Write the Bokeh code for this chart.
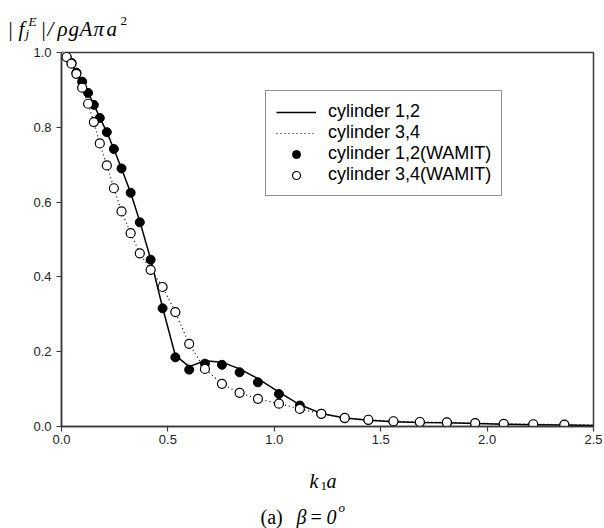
from bokeh.plotting import figure
from bokeh.layouts import column
from bokeh.models import Range1d, FixedTicker, PrintfTickFormatter, Legend, LegendItem, Label
from bokeh.embed import file_html
from bokeh.resources import INLINE

# ---- data ----
ka = [0.003, 0.024, 0.047, 0.070, 0.097, 0.125, 0.152, 0.180, 0.213, 0.246,
      0.282, 0.325, 0.368, 0.419, 0.475, 0.535, 0.600, 0.674, 0.754, 0.837,
      0.923, 1.022, 1.120, 1.221, 1.331, 1.442, 1.560, 1.684, 1.811, 1.944,
      2.078, 2.217, 2.363]
wamit12 = [0.995, 0.988, 0.972, 0.946, 0.922, 0.892, 0.860, 0.825, 0.787, 0.742,
           0.690, 0.625, 0.546, 0.446, 0.316, 0.185, 0.152, 0.168, 0.165, 0.145,
           0.118, 0.087, 0.056, 0.034, 0.022, 0.017, 0.013, 0.011, 0.010, 0.008,
           0.006, 0.005, 0.004]
wamit34 = [0.994, 0.988, 0.970, 0.943, 0.906, 0.863, 0.814, 0.757, 0.698, 0.637,
           0.575, 0.517, 0.463, 0.419, 0.373, 0.306, 0.221, 0.154, 0.114, 0.090,
           0.074, 0.061, 0.047, 0.034, 0.023, 0.018, 0.014, 0.012, 0.011, 0.009,
           0.007, 0.006, 0.005]
line_ka = [0.0] + ka + [2.5]
line12 = [1.0, 0.995, 0.988, 0.972, 0.947, 0.922, 0.893, 0.861, 0.826, 0.787,
          0.742, 0.690, 0.625, 0.548, 0.448, 0.318, 0.190, 0.160, 0.176, 0.172,
          0.154, 0.128, 0.092, 0.058, 0.035, 0.023, 0.017, 0.013, 0.011, 0.010,
          0.008, 0.006, 0.005, 0.004, 0.003]
line34 = [1.0, 0.994, 0.988, 0.970, 0.943, 0.906, 0.863, 0.814, 0.757, 0.698,
          0.637, 0.575, 0.517, 0.463, 0.419, 0.373, 0.306, 0.221, 0.154, 0.114,
          0.090, 0.074, 0.061, 0.047, 0.034, 0.023, 0.018, 0.014, 0.012, 0.011,
          0.009, 0.007, 0.006, 0.005, 0.004]
x_ticks = [0.0, 0.5, 1.0, 1.5, 2.0, 2.5]
y_ticks = [0.0, 0.2, 0.4, 0.6, 0.8, 1.0]
series_names = ["cylinder 1,2", "cylinder 3,4", "cylinder 1,2(WAMIT)", "cylinder 3,4(WAMIT)"]

W = 604
TOP_H = 42
MAIN_H = 413
BOT_H = 528 - TOP_H - MAIN_H
AX = "#3a3a3a"


def text_strip(height):
    f = figure(width=W, height=height, output_backend="svg", toolbar_location=None,
               x_range=Range1d(0, 1), y_range=Range1d(0, 1), frame_align=False,
               x_axis_location=None, y_axis_location=None, min_border=0,
               min_border_left=0, min_border_right=0, min_border_top=0, min_border_bottom=0)
    f.outline_line_color = None
    f.grid.visible = False
    f.background_fill_color = "white"
    f.border_fill_color = "white"
    return f


def put(fig, y0, txt, px, py, size, style="italic"):
    # px, py: page position of the text's left end / baseline; y0: page y of the strip's bottom
    fig.add_layout(Label(x=px, y=y0 - py, x_units="screen", y_units="screen", text=txt,
                         text_font="Liberation Serif", text_font_style=style,
                         text_font_size=f"{size}px", text_color="black",
                         text_baseline="alphabetic", text_align="left"))


# ---- top strip: | f_j^E | / ρgAπa^2 ----
top = text_strip(TOP_H)
put(top, TOP_H, "|", 8, 28, 21, "normal")
put(top, TOP_H, "f", 18, 28, 21)
put(top, TOP_H, "E", 28, 21, 13)
put(top, TOP_H, "j", 25, 33, 13)
put(top, TOP_H, "|", 41, 28, 21, "normal")
put(top, TOP_H, "/", 47, 28, 21)
put(top, TOP_H, "\u03C1", 57, 28, 21)
put(top, TOP_H, "g", 68, 28, 21)
put(top, TOP_H, "A", 79, 28, 21)
put(top, TOP_H, "\u03C0", 93, 28, 21)
put(top, TOP_H, "a", 106, 28, 21)
put(top, TOP_H, "2", 120, 20, 13, "normal")

# ---- main chart ----
p = figure(width=W, height=MAIN_H, output_backend="svg", toolbar_location=None,
           x_range=Range1d(0, 2.5), y_range=Range1d(0, 1.0), frame_align=False,
           min_border_left=61, min_border_right=11, min_border_top=10, min_border_bottom=29)
p.background_fill_color = "white"
p.border_fill_color = "white"
p.outline_line_color = AX
p.outline_line_width = 1.5
p.grid.visible = False

for ax, ticks in ((p.xaxis, x_ticks), (p.yaxis, y_ticks)):
    ax.ticker = FixedTicker(ticks=ticks)
    ax.formatter = PrintfTickFormatter(format="%.1f")
    ax.minor_tick_line_color = None
    ax.major_tick_in = 0
    ax.major_tick_out = 5
    ax.axis_line_color = AX
    ax.axis_line_width = 1.5
    ax.major_tick_line_color = AX
    ax.major_tick_line_width = 1.2
    ax.major_label_text_font = "Liberation Sans"
    ax.major_label_text_font_size = "13px"
    ax.major_label_text_color = "#222222"
p.xaxis.major_label_standoff = 3
p.yaxis.major_label_standoff = 5

r1 = p.line(line_ka, line12, line_color="black", line_width=1.5)
r2 = p.line(line_ka, line34, line_color="black", line_width=1.2, line_dash="1 3")
r3 = p.scatter(ka, wamit12, size=9, marker="circle", fill_color="black", line_color="black", line_width=1)
r4 = p.scatter(ka, wamit34, size=9, marker="circle", fill_color="white", line_color="black", line_width=1.2)

legend = Legend(items=[LegendItem(label=series_names[0], renderers=[r1]),
                       LegendItem(label=series_names[1], renderers=[r2]),
                       LegendItem(label=series_names[2], renderers=[r3]),
                       LegendItem(label=series_names[3], renderers=[r4])],
                location=(204, 230), margin=0, padding=10, spacing=0,
                label_height=20, glyph_height=20, glyph_width=40, label_standoff=12,
                label_text_font="Liberation Sans", label_text_font_size="18px",
                label_text_color="black", border_line_color="#222222", border_line_width=1.5,
                background_fill_color="white", background_fill_alpha=1.0)
p.add_layout(legend)

# ---- bottom strip: k_1 a  and caption (a) β = 0^o ----
bot = text_strip(BOT_H)
put(bot, 528, "k", 309, 480, 20)
put(bot, 528, "1", 320, 485, 13, "normal")
put(bot, 528, "a", 326, 480, 20)
put(bot, 528, "(a)", 260, 516, 20, "normal")
put(bot, 528, "\u03B2", 296, 516, 20)
put(bot, 528, "=", 310, 516, 20, "normal")
put(bot, 528, "0", 326, 516, 20)
put(bot, 528, "o", 338, 507, 13)

open("out.html", "w").write(file_html(column(top, p, bot, spacing=0), INLINE))
